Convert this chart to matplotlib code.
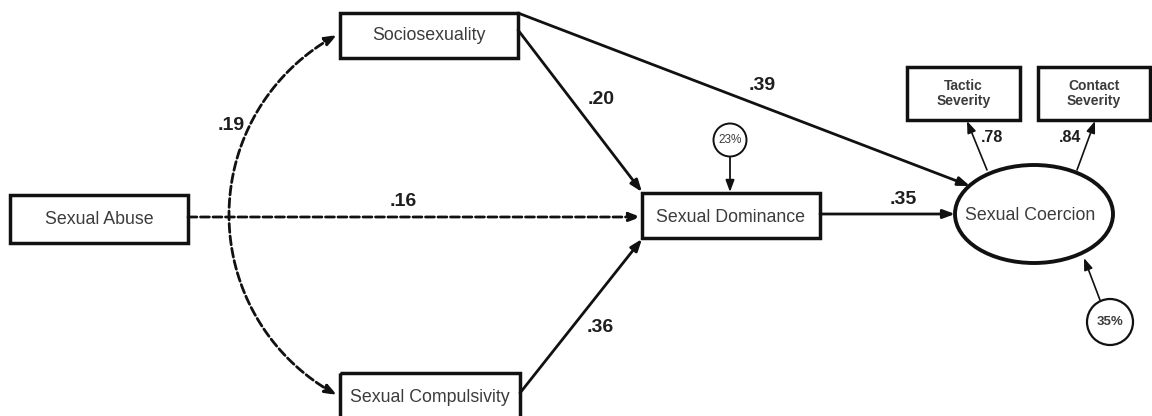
import numpy as np
import matplotlib
matplotlib.use("Agg")
import matplotlib.pyplot as plt
from matplotlib.patches import Rectangle, Ellipse, Circle, FancyArrowPatch
from matplotlib.path import Path

# ---- data ----
observed = ["Sociosexuality", "Sexual Abuse", "Sexual Dominance", "Sexual Compulsivity"]
indicators = ["Tactic\nSeverity", "Contact\nSeverity"]
latent = "Sexual Coercion"
path_coefs = [".19", ".16", ".20", ".39", ".36", ".35"]
loadings = [".78", ".84"]
r_squared = ["23%", "35%"]

plt.rcParams['font.family'] = ['Liberation Sans', 'DejaVu Sans']
fig = plt.figure(figsize=(11.52, 4.16), dpi=100)
ax = fig.add_axes([0, 0, 1, 1])
ax.set_xlim(0, 1152)
ax.set_ylim(416, 0)
ax.axis('off')

TXT = '#3c3c3c'
LW_BOX = 2.5

# box geometry (x0, y0, x1, y1)
boxes = [(340, 13, 518, 58), (10, 195, 188, 243), (642, 193, 820, 238), (340, 373, 520, 425)]
text_y = [35, 220, 217, 398]
for (x0, y0, x1, y1), ty, name in zip(boxes, text_y, observed):
    ax.add_patch(Rectangle((x0, y0), x1 - x0, y1 - y0, fill=False, lw=LW_BOX, ec='#111'))
    ax.text((x0 + x1) / 2, ty, name, ha='center', va='center', fontsize=12.8, color=TXT)

ind_boxes = [(907, 67, 1020, 120), (1038, 67, 1150, 120)]
for (x0, y0, x1, y1), name in zip(ind_boxes, indicators):
    ax.add_patch(Rectangle((x0, y0), x1 - x0, y1 - y0, fill=False, lw=LW_BOX, ec='#111'))
    ax.text((x0 + x1) / 2, (y0 + y1) / 2, name, ha='center', va='center', fontsize=10,
            color=TXT, fontweight='bold', linespacing=1.05)

ax.add_patch(Ellipse((1034, 214), 158, 98, fill=False, lw=2.8, ec='#111'))
ax.text(1030, 215, latent, ha='center', va='center', fontsize=12.8, color=TXT)

# residual circles
ax.add_patch(Circle((730, 140), 16.5, fill=False, lw=1.4, ec='#111'))
ax.text(730, 140, r_squared[0], ha='center', va='center', fontsize=8.5, color=TXT)
ax.add_patch(Circle((1110, 322), 23, fill=False, lw=1.6, ec='#111'))
ax.text(1110, 322, r_squared[1], ha='center', va='center', fontsize=9.5, color=TXT, fontweight='bold')


def arrow(p0, p1, lw=2.0, ls='-', style='-|>,head_length=7,head_width=2.6'):
    a = FancyArrowPatch(p0, p1, arrowstyle=style, lw=lw, color='#111',
                        linestyle=ls, shrinkA=0, shrinkB=0, mutation_scale=1)
    ax.add_patch(a)


DASH = (0, (3.2, 1.3))
# structural paths
arrow((518, 30), (642, 192))               # socio -> dominance
arrow((518, 13), (970, 186))               # socio -> coercion
arrow((188, 217), (641, 217), ls=DASH)     # abuse -> dominance
arrow((520, 393), (642, 239))              # compulsivity -> dominance
arrow((820, 214), (955, 214))              # dominance -> coercion
arrow((730, 157), (730, 192), lw=1.3)      # 23% -> dominance
arrow((987, 170), (967, 121), lw=1.2)      # coercion -> tactic
arrow((1077, 170), (1095, 121), lw=1.2)    # coercion -> contact
arrow((1100, 300), (1084, 258), lw=1.2)    # 35% -> coercion

# covariance arc (dashed, double headed)
cx, cy, r = 433, 215, 204
a0 = np.arctan2(35 - cy, 337 - cx) % (2 * np.pi)
a1 = np.arctan2(395 - cy, 337 - cx) % (2 * np.pi)
angs = np.linspace(a0, a1, 80)
pts = np.column_stack([cx + r * np.cos(angs), cy + r * np.sin(angs)])
codes = [Path.MOVETO] + [Path.LINETO] * (len(pts) - 1)
arc = FancyArrowPatch(path=Path(pts, codes), arrowstyle='<|-|>,head_length=7,head_width=2.6',
                      lw=2.0, color='#111', linestyle=DASH, mutation_scale=1)
ax.add_patch(arc)

# coefficient labels
lab_pos = [(231, 125), (403, 202), (601, 100), (762, 86), (600, 328), (903, 200)]
for (x, y), t in zip(lab_pos, path_coefs):
    ax.text(x, y, t, ha='center', va='center', fontsize=14, fontweight='bold', color='#1e1e1e')
for (x, y), t in zip([(992, 138), (1070, 138)], loadings):
    ax.text(x, y, t, ha='center', va='center', fontsize=11.5, fontweight='bold', color='#1e1e1e')

fig.savefig('out.png', dpi=100)
